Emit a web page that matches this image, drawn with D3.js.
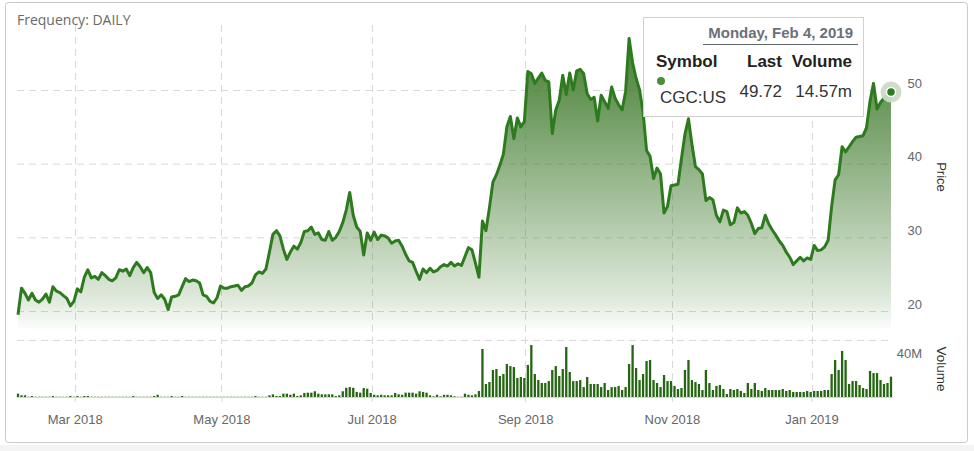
<!DOCTYPE html>
<html><head><meta charset="utf-8">
<script src="https://cdn.jsdelivr.net/npm/d3@7"></script>
<style>
html,body{margin:0;padding:0;background:#fff;}
svg{display:block;}
</style></head><body>
<svg id="chart" width="974" height="451"></svg>
<script>
// ---------------- DATA ----------------
const symbol = "CGC:US";
const frequencyLabel = "Frequency: DAILY";
const startDate = "2018-02-05";
const endDate = "2019-02-04";
const holidays = ["2018-02-19","2018-03-30","2018-05-28","2018-07-04","2018-09-03",
                  "2018-11-22","2018-12-05","2018-12-25","2019-01-01","2019-01-21"];
// daily close (USD), one per trading day
const prices = [
 19.5,23.1,22.4,21.5,22.4,21.5,21.2,21.6,22.3,21.2,
 23.3,22.7,22.5,22.1,21.7,20.7,21.3,23.0,22.6,24.6,
 25.6,24.5,24.7,24.3,25.2,24.8,24.3,24.1,24.5,25.6,
 25.4,25.7,24.8,25.9,26.6,26.0,25.2,25.9,25.2,22.5,
 21.7,22.2,21.6,20.2,21.9,22.0,22.2,23.3,24.4,24.0,
 24.2,24.1,23.8,22.2,22.0,21.3,21.1,21.8,23.4,23.1,
 23.1,23.3,23.4,23.5,22.8,23.3,23.4,23.8,24.9,25.3,
 25.1,25.7,28.0,30.4,30.9,30.2,28.4,27.0,28.0,28.8,
 28.4,29.3,30.8,30.9,31.4,30.4,30.6,29.7,29.6,30.8,
 29.6,30.0,30.8,32.0,33.7,36.1,33.0,31.4,30.8,27.6,
 30.6,29.6,30.7,29.7,30.3,30.2,29.9,29.2,29.5,29.6,
 28.8,27.7,26.8,26.6,25.4,24.3,25.7,25.2,25.8,25.3,
 25.5,26.0,26.3,26.1,26.6,26.1,26.4,26.2,27.4,28.6,
 28.3,26.5,24.6,32.2,30.9,34.0,37.5,38.5,39.8,41.3,
 45.0,46.4,43.4,46.2,45.0,45.7,52.5,52.2,50.9,51.6,
 52.3,51.3,51.1,44.1,47.3,48.6,52.0,49.4,52.3,50.0,
 52.6,52.8,52.2,49.5,48.7,49.0,45.8,49.3,48.4,47.5,
 50.4,48.9,48.0,47.3,49.8,57.0,53.7,51.6,50.0,47.0,
 41.8,41.0,38.0,39.4,38.6,33.3,34.2,37.0,37.1,37.2,
 40.7,44.0,46.1,42.6,39.6,39.2,38.6,35.0,35.4,35.1,
 33.0,32.1,33.7,33.5,31.7,32.0,34.0,33.3,33.5,33.0,
 31.9,30.5,31.2,31.3,33.0,31.8,31.0,30.3,29.5,28.9,
 28.0,27.3,26.3,26.8,27.3,26.8,27.2,27.0,28.9,28.2,
 28.3,28.7,29.6,34.2,37.8,38.5,42.3,41.6,42.3,43.0,
 43.6,43.7,43.8,44.9,48.5,50.9,47.4,48.3,48.9,49.3,49.72
];
// daily volume (millions of shares)
const volumes = [
 2.4,1.2,1.2,0.2,0.7,0.2,0.2,0.2,0.2,0.2,
 0.7,0.2,0.2,0.2,0.2,0.7,0.2,0.7,0.2,0.7,
 0.7,0.2,0.2,0.2,0.2,0.2,0.2,0.2,0.2,0.2,
 0.2,0.2,0.2,0.7,0.2,0.2,0.2,0.2,0.2,0.7,
 1.6,0.2,0.2,0.2,0.7,0.2,0.2,0.7,0.2,0.2,
 0.2,0.2,0.2,0.2,0.2,0.2,0.2,0.2,0.2,0.2,
 0.2,0.2,0.2,0.2,0.2,0.2,0.2,0.2,0.7,0.2,
 0.2,0.2,1.2,1.9,0.7,0.7,2.4,2.4,1.6,2.4,
 0.7,1.2,2.9,3.1,3.1,4.1,2.4,1.9,1.9,1.9,
 1.9,0.7,1.2,4.1,6.6,7.1,6.6,3.6,3.1,6.4,
 5.9,2.9,1.6,1.2,1.6,1.2,1.2,1.2,2.9,1.9,
 1.6,3.1,3.1,3.1,2.4,4.1,3.6,3.1,1.2,0.5,
 1.6,0.5,1.6,1.6,1.2,0.5,0.2,0.2,2.4,1.6,
 1.2,1.9,4.3,
 34.3,9.3,10.7,19.3,20.0,15.0,16.4,23.6,22.1,21.4,
 13.6,14.3,13.6,22.9,37.1,16.4,12.1,10.0,10.0,11.4,
 19.3,22.1,15.0,20.0,35.7,17.9,11.4,11.4,12.1,7.1,
 14.3,9.3,9.3,9.3,7.1,10.0,5.0,7.1,7.1,7.9,
 5.0,7.1,23.6,37.1,20.7,12.1,16.4,25.7,26.4,12.1,
 10.0,7.1,15.7,11.4,11.4,7.9,5.7,6.4,19.3,26.4,
 12.1,10.7,9.3,5.0,19.3,10.0,5.0,7.9,8.6,5.7,
 2.1,5.7,5.0,5.7,4.3,2.9,10.0,5.7,10.0,5.0,
 4.3,6.4,5.0,5.0,5.0,5.0,5.7,4.3,5.0,3.6,
 3.6,3.6,3.6,4.3,3.6,4.3,4.3,4.3,5.0,5.0,
 16.4,26.4,19.3,32.9,26.4,9.3,11.4,11.4,8.6,6.4,
 5.7,18.6,17.1,17.1,12.1,9.3,10.0,14.57
];
const priceTicks = [20, 30, 40, 50];
const volumeTicks = [40];
const tickMonths = ["2018-03","2018-05","2018-07","2018-09","2018-11","2019-01"];
const tickLabels = ["Mar 2018","May 2018","Jul 2018","Sep 2018","Nov 2018","Jan 2019"];

// ---------------- DATES (trading days) ----------------
const parse = d3.timeParse("%Y-%m-%d");
const fmtDay = d3.timeFormat("%Y-%m-%d");
const fmtMonth = d3.timeFormat("%Y-%m");
const hol = new Set(holidays);
const dates = d3.timeDay.range(parse(startDate), d3.timeDay.offset(parse(endDate), 1))
  .filter(d => d.getDay() !== 0 && d.getDay() !== 6 && !hol.has(fmtDay(d)));
const n = Math.min(dates.length, prices.length, volumes.length);
const data = d3.range(n).map(i => ({i, date: dates[i], price: prices[i], vol: volumes[i]}));

// ---------------- LAYOUT ----------------
const W = 974, H = 451;
const plotL = 17, plotR = 893;
const gridTop = 25;
const priceBottom = 328;
const volBase = 397;
const svg = d3.select("#chart");
const FONT = "'Liberation Sans', Arial, sans-serif";

const x = d3.scaleLinear().domain([0, n - 1]).range([18, 891]);
const yP = d3.scaleLinear().domain([20, 50]).range([311, 90]);
const yV = d3.scaleLinear().domain([0, 40]).range([volBase, 341]);

// defs
const defs = svg.append("defs");
const grad = defs.append("linearGradient").attr("id", "areaGrad")
  .attr("gradientUnits", "userSpaceOnUse").attr("x1", 0).attr("x2", 0)
  .attr("y1", gridTop).attr("y2", priceBottom);
grad.append("stop").attr("offset", 0).attr("stop-color", "rgb(60,120,40)").attr("stop-opacity", 1);
grad.append("stop").attr("offset", (300 - gridTop) / (priceBottom - gridTop)).attr("stop-color", "rgb(60,120,40)").attr("stop-opacity", 0.16);
grad.append("stop").attr("offset", 1).attr("stop-color", "rgb(60,120,40)").attr("stop-opacity", 0.02);

// page band + frame
svg.append("rect").attr("x", 0).attr("y", 445).attr("width", W).attr("height", H - 445).attr("fill", "#f4f4f4");
svg.append("rect").attr("x", 5.5).attr("y", 2.5).attr("width", 962).attr("height", 440)
  .attr("rx", 3).attr("fill", "#fff").attr("stroke", "#cacaca");

// frequency label
svg.append("text").attr("x", 17).attr("y", 24.5).text(frequencyLabel)
  .attr("font-family", "'Open Sans', sans-serif").attr("font-size", 14).attr("fill", "#6a6a6a");

// tick positions (first trading day of each labelled month)
const tickIdx = tickMonths.map(m => data.findIndex(d => fmtMonth(d.date) === m) - 0.75);

// gridlines
const gridColor = "#d9d9d9", dash = "7,5";
const gH = svg.append("g");
gH.selectAll("line.p").data(priceTicks).join("line")
  .attr("x1", plotL).attr("x2", plotR).attr("y1", d => yP(d) + 0.5).attr("y2", d => yP(d) + 0.5)
  .attr("stroke", gridColor).attr("stroke-dasharray", dash);
gH.selectAll("line.v").data(volumeTicks).join("line")
  .attr("x1", plotL).attr("x2", plotR).attr("y1", d => yV(d) - 0.5).attr("y2", d => yV(d) - 0.5)
  .attr("stroke", gridColor).attr("stroke-dasharray", dash);
gH.selectAll("line.x").data(tickIdx).join("line")
  .attr("x1", d => Math.round(x(d)) + 0.5).attr("x2", d => Math.round(x(d)) + 0.5)
  .attr("y1", gridTop).attr("y2", volBase)
  .attr("stroke", gridColor).attr("stroke-dasharray", dash);

// area + line
const area = d3.area().x(d => x(d.i)).y0(priceBottom).y1(d => yP(d.price));
svg.append("path").datum(data).attr("d", area).attr("fill", "url(#areaGrad)");
const line = d3.line().x(d => x(d.i)).y(d => yP(d.price));
svg.append("path").datum(data).attr("d", line).attr("fill", "none")
  .attr("stroke", "#2e7b1f").attr("stroke-width", 3).attr("stroke-linejoin", "round");

// volume bars
const bw = 2.3;
svg.append("g").selectAll("rect").data(data).join("rect")
  .attr("x", d => x(d.i) - bw / 2).attr("width", bw)
  .attr("y", d => yV(d.vol)).attr("height", d => volBase - yV(d.vol))
  .attr("fill", "#246611");

// x axis
const xAxis = d3.axisBottom(x).tickValues(tickIdx).tickFormat((d, k) => tickLabels[k])
  .tickSizeInner(5).tickSizeOuter(0).tickPadding(13);
const gx = svg.append("g").attr("transform", `translate(0,${volBase})`).call(xAxis);
gx.select(".domain").attr("d", `M${plotL},0.5H${plotR}`).attr("stroke", "#ccd6eb");
gx.selectAll(".tick line").attr("stroke", "#ccd6eb");
gx.selectAll(".tick text").attr("font-family", FONT).attr("font-size", 13).attr("fill", "#666");

// price axis labels (right)
const pAxis = d3.axisRight(yP).tickValues(priceTicks).tickSize(0).tickPadding(0);
const gp = svg.append("g").attr("transform", `translate(922,0)`).call(pAxis);
gp.select(".domain").remove();
gp.selectAll(".tick text").attr("text-anchor", "end").attr("x", 0).attr("dy", -3)
  .attr("font-family", FONT).attr("font-size", 13).attr("fill", "#666");

// volume axis label
const vAxis = d3.axisRight(yV).tickValues(volumeTicks).tickFormat(d => d + "M").tickSize(0).tickPadding(0);
const gv = svg.append("g").attr("transform", `translate(922,0)`).call(vAxis);
gv.select(".domain").remove();
gv.selectAll(".tick text").attr("text-anchor", "end").attr("x", 0).attr("dy", 16)
  .attr("font-family", FONT).attr("font-size", 13).attr("fill", "#666");

// axis titles
svg.append("text").attr("transform", "translate(937,177) rotate(90)").attr("text-anchor", "middle")
  .text("Price").attr("font-family", FONT).attr("font-size", 13).attr("fill", "#333");
svg.append("text").attr("transform", "translate(937,369) rotate(90)").attr("text-anchor", "middle")
  .text("Volume").attr("font-family", FONT).attr("font-size", 13.5).attr("fill", "#333");

// end point marker
const last = data[n - 1];
svg.append("circle").attr("cx", x(last.i)).attr("cy", yP(last.price)).attr("r", 10.5)
  .attr("fill", "#cbdac5").attr("opacity", 0.95);
svg.append("circle").attr("cx", x(last.i)).attr("cy", yP(last.price)).attr("r", 4.5)
  .attr("fill", "#2e7b1f").attr("stroke", "#fff").attr("stroke-width", 1.5);

// tooltip
const tt = svg.append("g").attr("font-family", FONT);
tt.append("rect").attr("x", 643.5).attr("y", 17.5).attr("width", 220).attr("height", 99)
  .attr("fill", "#fff").attr("stroke", "#d0d0d0");
tt.append("text").attr("x", 853).attr("y", 38).attr("text-anchor", "end")
  .attr("font-size", 15).attr("font-weight", "bold").attr("fill", "#6b7079")
  .text(d3.timeFormat("%A, %b %-d, %Y")(last.date));
tt.append("line").attr("x1", 703).attr("x2", 858).attr("y1", 44.5).attr("y2", 44.5)
  .attr("stroke", "#5f6670");
const hdr = tt.append("g").attr("font-size", 17).attr("font-weight", "bold").attr("fill", "#222");
hdr.append("text").attr("x", 656).attr("y", 67).text("Symbol");
hdr.append("text").attr("x", 782).attr("y", 67).attr("text-anchor", "end").text("Last");
hdr.append("text").attr("x", 852).attr("y", 67).attr("text-anchor", "end").text("Volume");
tt.append("circle").attr("cx", 661).attr("cy", 81).attr("r", 4).attr("fill", "#4c8c3a");
const row = tt.append("g").attr("font-size", 17).attr("fill", "#333");
row.append("text").attr("x", 660).attr("y", 103).text(symbol);
row.append("text").attr("x", 782).attr("y", 97).attr("text-anchor", "end").text(d3.format(".2f")(last.price));
row.append("text").attr("x", 852).attr("y", 97).attr("text-anchor", "end").text(d3.format(".2f")(last.vol) + "m");
</script>
</body></html>
